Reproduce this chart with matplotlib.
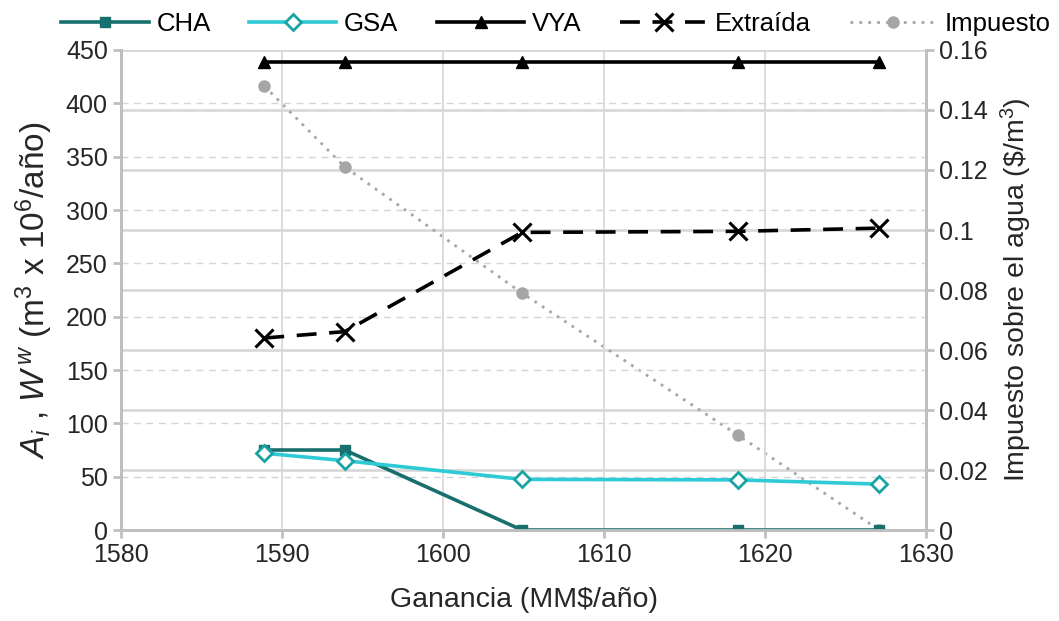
import matplotlib
matplotlib.use("Agg")
import matplotlib.pyplot as plt
from matplotlib.ticker import FuncFormatter


# values
ganancia = [1588.9, 1593.9, 1604.9, 1618.3, 1627.1]
cha = [75, 75, 0, 0, 0]
gsa = [72, 65, 47.5, 47, 43]
vya = [439, 439, 439, 439, 439]
extraida = [180, 186, 279, 280, 283]
impuesto = [0.148, 0.121, 0.079, 0.0317, 0.0]

left_ticks = [0, 50, 100, 150, 200, 250, 300, 350, 400, 450]
right_ticks = [0, 0.02, 0.04, 0.06, 0.08, 0.1, 0.12, 0.14, 0.16]
x_ticks = [1580, 1590, 1600, 1610, 1620, 1630]

plt.rcParams["font.family"] = ["Liberation Sans", "DejaVu Sans"]
plt.rcParams["mathtext.fontset"] = "custom"
plt.rcParams["mathtext.rm"] = "Liberation Sans"
plt.rcParams["mathtext.it"] = "Liberation Sans:italic"

SPINE = "#BFBFBF"
TEXT = "#262626"


def build_chart():
    fig = plt.figure(figsize=(10.59, 6.21), dpi=100)
    ax = fig.add_axes([0.1143, 0.1465, 0.7601, 0.773])
    ax2 = ax.twinx()
    ax.set_zorder(ax2.get_zorder() + 1)
    ax.patch.set_visible(False)

    # right axis: solid grid + impuesto
    ax2.set_ylim(0, 0.16)
    ax2.set_yticks(right_ticks)
    ax2.yaxis.set_major_formatter(FuncFormatter(lambda v, p: f"{v:g}"))
    ax2.grid(axis="y", color="#D9D9D9", linewidth=2.0)
    ax2.plot(ganancia, impuesto, color="#A6A6A6", linestyle=(0, (1, 2.2)),
             linewidth=2.0, marker="o", markersize=8, label="Impuesto")

    # left axis
    ax.plot(ganancia, gsa, color="#2ECAD6", linewidth=2.6, marker="D",
            markersize=8, markerfacecolor="white", markeredgecolor="#1AA3A3",
            markeredgewidth=2, label="GSA", zorder=3)
    ax.plot(ganancia, cha, color="#17706E", linewidth=2.6, marker="s",
            markersize=7, label="CHA", zorder=2)
    ax.plot(ganancia, vya, color="black", linewidth=2.6, marker="^",
            markersize=9, label="VYA")
    ax.plot(ganancia, extraida, color="black", linewidth=2.6,
            linestyle=(0, (5.5, 3.5)), marker="x", markersize=13,
            markeredgewidth=2.2, label="Extraída")

    ax.set_xlim(1580, 1630)
    ax.set_ylim(0, 450)
    ax.set_xticks(x_ticks)
    ax.set_yticks(left_ticks)
    ax.grid(axis="y", color="#D0D5DA", linestyle=(0, (5, 4)), linewidth=1.0)
    ax.grid(axis="x", color="#D9D9D9", linewidth=1.3)

    for a in (ax, ax2):
        a.spines["top"].set_visible(False)
        for side in ("left", "right", "bottom"):
            a.spines[side].set_color(SPINE)
            a.spines[side].set_linewidth(2.0)
        a.tick_params(colors=SPINE, labelcolor=TEXT, labelsize=18,
                      width=2, length=6)

    ax.set_xlabel("Ganancia (MM\\$/año)", fontsize=20.5, color=TEXT,
                  labelpad=14)
    ax.set_ylabel(r"$A_i$ , $W^{\,w}$ (m$^3$ x 10$^6$/año)", fontsize=24,
                  color=TEXT, labelpad=8)
    ax2.set_ylabel("Impuesto sobre el agua (\\$/m$^3$)", fontsize=20.5,
                   color=TEXT, labelpad=8)

    handles1, labels1 = ax.get_legend_handles_labels()
    handles2, labels2 = ax2.get_legend_handles_labels()
    order = [1, 0, 2, 3]
    handles = [handles1[i] for i in order] + handles2
    labels = [labels1[i] for i in order] + labels2
    fig.legend(handles, labels, loc="upper center", ncol=5,
               bbox_to_anchor=(0.525, 1.005), frameon=False, fontsize=18.5,
               handlelength=3.4, columnspacing=1.5, handletextpad=0.3,
               borderaxespad=0.2)

    fig.savefig("out.png", dpi=100)
    plt.close(fig)


if __name__ == "__main__":
    build_chart()
